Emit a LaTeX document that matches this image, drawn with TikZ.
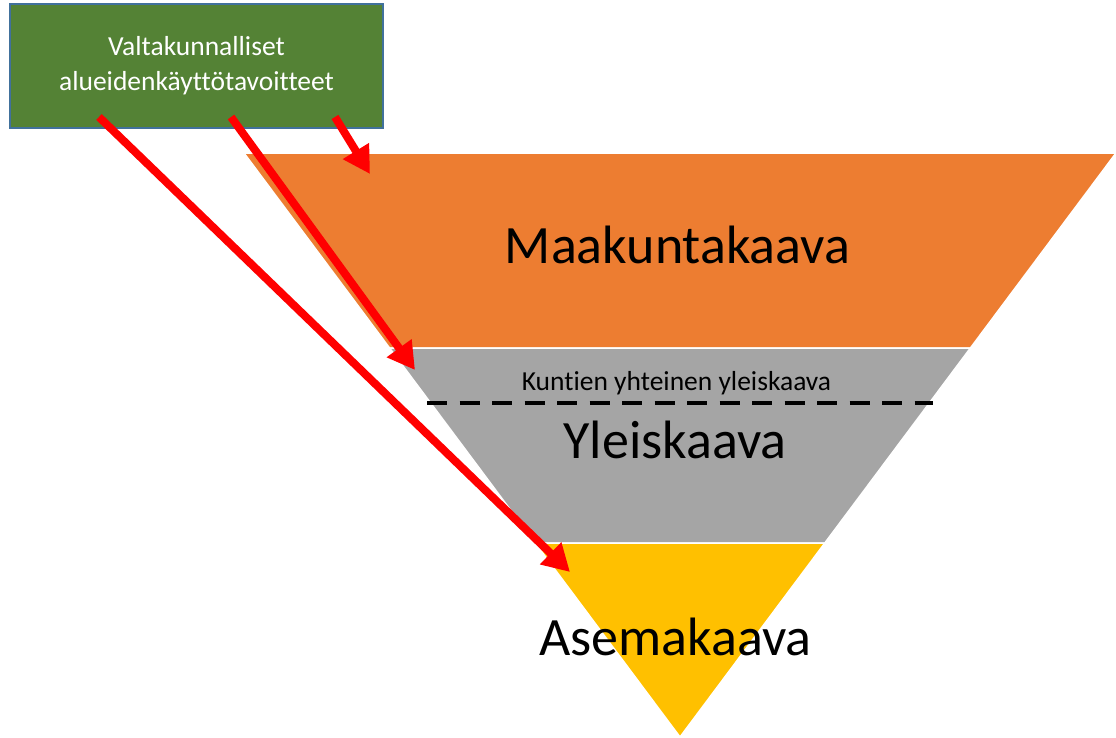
\documentclass[tikz,border=0pt]{standalone}
\usepackage{fontspec}
\setmainfont{Carlito}[Ligatures={NoCommon}]
\usetikzlibrary{arrows.meta}
\definecolor{gOrange}{HTML}{ED7D31}
\definecolor{gGray}{HTML}{A5A5A5}
\definecolor{gYellow}{HTML}{FFC000}
\definecolor{gGreen}{HTML}{548235}
\definecolor{gBorder}{HTML}{41719C}
\definecolor{gRed}{HTML}{FF0000}
\tikzset{
  layer/.style={draw=white, line width=1.5pt},
  bigtext/.style={font=\fontsize{54pt}{60pt}\selectfont, anchor=base, text=black, inner sep=0pt},
  smalltext/.style={font=\fontsize{27.5pt}{34pt}\selectfont, anchor=base, text=black, inner sep=0pt},
  greenbox/.style={fill=gGreen, draw=gBorder, line width=1.2pt, text=white,
    minimum width=373pt, minimum height=124pt, align=center, inner sep=0pt,
    font=\fontsize{27.5pt}{35pt}\selectfont},
  redarrow/.style={draw=gRed, line width=8pt, -{Triangle[length=27pt,width=29pt]}},
  divider/.style={draw=black, line width=4.5pt, dash pattern=on 20pt off 12.5pt}
}
\begin{document}
\begin{tikzpicture}[x=1pt,y=-1pt]
\useasboundingbox (0,0) rectangle (1116,737);
% funnel layers
\path[layer, fill=gOrange] (244,153) -- (1116,153) -- (970.4,348) -- (389.6,348) -- cycle;
\path[layer, fill=gGray] (389.6,348) -- (970.4,348) -- (824.8,543) -- (535.2,543) -- cycle;
\path[layer, fill=gYellow] (535.2,543) -- (824.8,543) -- (680,737) -- cycle;
% labels
\node[bigtext] (maak) at (677.5,263) {Maakuntakaava};
\node[smalltext] (kunt) at (676.5,390) {Kuntien yhteinen yleiskaava};
\node[bigtext] (yleis) at (675,458) {Yleiskaava};
\node[bigtext] (asema) at (675.5,655) {Asemakaava};
% dashed divider
\coordinate (dl) at (427,403);
\coordinate (dr) at (933,403);
\draw[divider] (dl) -- (dr);
% green box
\node[greenbox] (vat) at (196.5,66) {Valtakunnalliset\\alueidenkäyttötavoitteet};
% arrows
\coordinate (s1) at (335,117);
\coordinate (t1) at (370,174);
\coordinate (s2) at (231,117);
\coordinate (t2) at (415,370);
\coordinate (s3) at (99,117);
\coordinate (t3) at (570,572);
\draw[redarrow] (s1) -- (t1);
\draw[redarrow] (s2) -- (t2);
\draw[redarrow] (s3) -- (t3);
\end{tikzpicture}
\end{document}
